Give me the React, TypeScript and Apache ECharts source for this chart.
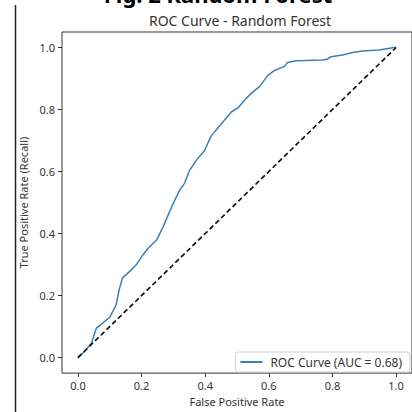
import React, { useEffect, useRef } from "react";
import * as echarts from "echarts";

const fpr = [0, 0.017, 0.043, 0.058, 0.069, 0.10, 0.11, 0.12, 0.13, 0.14, 0.163, 0.184, 0.20, 0.22, 0.247, 0.267, 0.298, 0.32, 0.335, 0.351, 0.372, 0.398, 0.419, 0.445, 0.482, 0.503, 0.529, 0.55, 0.57, 0.597, 0.618, 0.649, 0.659, 0.686, 0.769, 0.785, 0.795, 0.832, 0.863, 0.894, 0.947, 0.994, 1.0];
const tpr = [0, 0.016, 0.047, 0.095, 0.104, 0.13, 0.15, 0.17, 0.22, 0.257, 0.278, 0.30, 0.325, 0.352, 0.379, 0.42, 0.494, 0.54, 0.562, 0.604, 0.636, 0.668, 0.715, 0.747, 0.792, 0.805, 0.836, 0.857, 0.873, 0.91, 0.926, 0.939, 0.952, 0.957, 0.96, 0.963, 0.97, 0.976, 0.984, 0.989, 0.992, 1.0, 1.0];
const chanceX = [0, 1];
const chanceY = [0, 1];
const tickValues = [0, 0.2, 0.4, 0.6, 0.8, 1.0];
const rocName = "ROC Curve (AUC = 0.68)";
const chartTitle = "ROC Curve - Random Forest";
const figTitle = "Fig. 2 Random Forest";
const xName = "False Positive Rate";
const yName = "True Positive Rate (Recall)";

const FONT = "Noto Sans";

export default function App() {
  const ref = useRef<HTMLDivElement>(null);
  useEffect(() => {
    if (!ref.current) return;
    const chart = echarts.init(ref.current, null, { renderer: "svg" });
    const axisCommon = (name: string, gap: number) => ({
      type: "value" as const,
      min: -0.05,
      max: 1.05,
      name,
      nameLocation: "middle" as const,
      nameGap: gap,
      nameTextStyle: { fontFamily: FONT, fontSize: 11, color: "#333" },
      axisLine: { show: false, onZero: false },
      splitLine: { show: false },
      axisTick: {
        show: true,
        length: 4,
        lineStyle: { color: "#333", width: 1 },
        customValues: tickValues,
      },
      axisLabel: {
        fontFamily: FONT,
        fontSize: 11,
        color: "#333",
        margin: 7,
        customValues: tickValues,
        formatter: (v: number) => v.toFixed(1),
      },
    });
    chart.setOption({
      animation: false,
      backgroundColor: "#fff",
      grid: {
        left: 62,
        right: 0,
        top: 32,
        bottom: 33,
        show: true,
        borderColor: "#333",
        borderWidth: 1,
        backgroundColor: "transparent",
      },
      xAxis: axisCommon(xName, 20),
      yAxis: { ...axisCommon(yName, 28), nameRotate: 90 },
      legend: {
        data: [rocName],
        right: 2,
        bottom: 40,
        icon: "rect",
        itemWidth: 22,
        itemHeight: 2,
        itemGap: 0,
        padding: [4, 8, 4, 5],
        borderColor: "#d0d0d0",
        borderWidth: 1,
        borderRadius: 3,
        backgroundColor: "rgba(255,255,255,0.85)",
        textStyle: { fontFamily: FONT, fontSize: 12, color: "#333", padding: [0, 0, 0, 3] },
      },
      graphic: [
        {
          type: "text",
          x: 240,
          y: 20,
          style: {
            text: chartTitle,
            fontFamily: FONT,
            fontSize: 14,
            fill: "#333",
            align: "center",
            verticalAlign: "middle",
          },
        },
        {
          type: "text",
          x: 218,
          y: -6,
          style: {
            text: figTitle,
            fontFamily: FONT,
            fontSize: 22,
            fontWeight: "bold",
            fill: "#000",
            align: "center",
            verticalAlign: "middle",
          },
        },
        {
          type: "line",
          shape: { x1: 15.5, y1: 5, x2: 15.5, y2: 412 },
          style: { stroke: "#222", lineWidth: 1.5 },
        },
      ],
      series: [
        {
          name: rocName,
          type: "line",
          data: fpr.map((x, i) => [x, tpr[i]]),
          symbol: "none",
          lineStyle: { color: "#3a80b9", width: 1.5 },
          itemStyle: { color: "#3a80b9" },
        },
        {
          name: "chance",
          type: "line",
          data: chanceX.map((x, i) => [x, chanceY[i]]),
          symbol: "none",
          lineStyle: { color: "#111", width: 1.7, type: [5, 3] },
        },
      ],
    });
    return () => chart.dispose();
  }, []);
  return (
    <div
      ref={ref}
      style={{ position: "fixed", left: 0, top: 0, width: 412, height: 412 }}
    />
  );
}
